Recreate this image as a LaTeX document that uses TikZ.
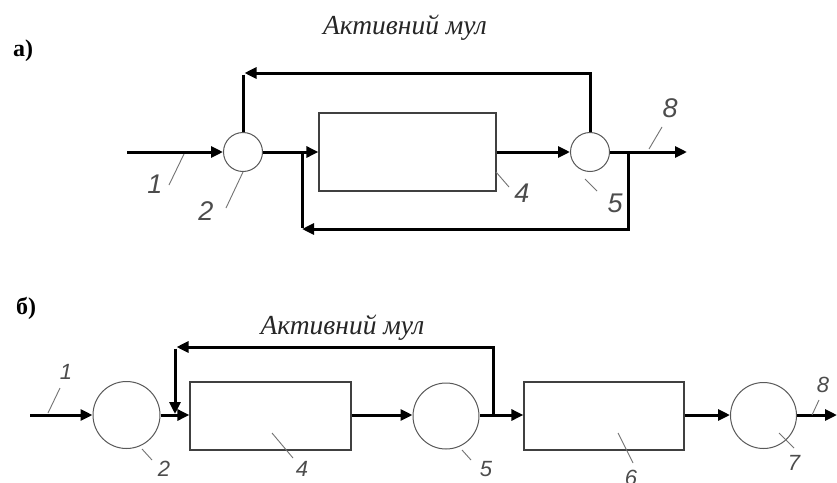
\documentclass[tikz,border=0pt]{standalone}
\usepackage{fontspec}
\setmainfont{Liberation Serif}
\newfontfamily\labelfont{Liberation Sans}
\usetikzlibrary{arrows.meta}
\tikzset{
  tip/.style={-{Triangle[length=12pt,width=11pt]}},
  flow/.style={line width=3pt, tip},
  pipe/.style={line width=3pt},
  unitbox/.style={draw=black!75, line width=1.3pt, rectangle, inner sep=0pt},
  mixer/.style={draw=black!65, line width=1pt, circle, inner sep=0pt},
  leader/.style={draw=black!55, line width=0.9pt},
  taga/.style={font=\labelfont\itshape\fontsize{27}{27}\selectfont, text=black!70, inner sep=0pt},
  tagb/.style={font=\labelfont\itshape\fontsize{22}{22}\selectfont, text=black!70, inner sep=0pt},
  heading/.style={font=\itshape\fontsize{27.5}{27.5}\selectfont, text=black!85, inner sep=0pt, anchor=base},
  part/.style={font=\bfseries\fontsize{24}{24}\selectfont, inner sep=0pt}
}
\begin{document}
\begin{tikzpicture}[x=1pt,y=-1pt]
\useasboundingbox[fill=white] (0,0) rectangle (837,482);

% ---------------- scheme a) ----------------
\node[part] (pa) at (23,51) {а)};
\node[heading] (ha) at (405,34) {Активний мул};

\node[mixer, minimum size=39pt] (c2a) at (243,152) {};
\node[unitbox, minimum width=177pt, minimum height=78pt] (b4a) at (407.5,152) {};
\node[mixer, minimum size=39pt] (c5a) at (590,152) {};
\coordinate (in1a) at (127,152);
\coordinate (out8a) at (687,152);
\coordinate (s1a) at (302,152);
\coordinate (s2a) at (628,152);
\coordinate (ta) at (243,73);
\coordinate (ba) at (302,229);

\draw[flow] (in1a) -- (c2a);
\draw[flow] (c2a) -- (b4a);
\draw[flow] (b4a) -- (c5a);
\draw[flow] (c5a) -- (out8a);
% recycle over the top
\draw[flow] (c5a.north) |- ([xshift=1.5pt]ta);
\draw[pipe] ([yshift=-1.5pt]ta) -- (c2a.north);
% bypass underneath
\draw[flow] (s2a) |- (ba);
\draw[pipe] ([yshift=1.5pt]ba) -- (s1a);

% position numbers
\draw[leader] (184,154) -- (169,185);
\node[taga] (n1a) at (155,184) {1};
\draw[leader] (243,172) -- (226,208);
\node[taga] (n2a) at (206,211) {2};
\draw[leader] (496,172) -- (509,187);
\node[taga] (n4a) at (522,193) {4};
\draw[leader] (585,179) -- (597,191);
\node[taga] (n5a) at (615,203) {5};
\draw[leader] (649,149) -- (662,127);
\node[taga] (n8a) at (670,108) {8};

% ---------------- scheme b) ----------------
\node[part] (pb) at (26,308) {б)};
\node[heading] (hb) at (342.5,334) {Активний мул};

\node[mixer, minimum size=67pt] (c2b) at (126.5,415) {};
\node[unitbox, minimum width=161pt, minimum height=68pt] (b4b) at (270.5,416) {};
\node[mixer, minimum size=66pt] (c5b) at (446,416) {};
\node[unitbox, minimum width=160pt, minimum height=68pt] (b6b) at (604,416) {};
\node[mixer, minimum size=66pt] (c7b) at (763.5,415.5) {};
\coordinate (in1b) at (30,415);
\coordinate (out8b) at (837,415);
\coordinate (s1b) at (493,415);
\coordinate (tb) at (175,347);
\coordinate (db) at (175,414);

\draw[flow] (in1b) -- (c2b);
\draw[flow] (c2b.east |- 0,415) -- (b4b.west |- 0,415);
\draw[flow] (b4b.east |- 0,415) -- (c5b.west |- 0,415);
\draw[flow] (c5b.east |- 0,415) -- (b6b.west |- 0,415);
\draw[flow] (b6b.east |- 0,415) -- (c7b.west |- 0,415);
\draw[flow] (c7b.east |- 0,415) -- (out8b);
% return of active sludge
\draw[flow] (s1b) |- ([xshift=1.5pt]tb);
\draw[flow] ([yshift=-1.5pt]tb) -- (db);

% position numbers
\draw[leader] (48,413) -- (60,388);
\node[tagb] (n1b) at (66,372) {1};
\draw[leader] (142,449) -- (152,460);
\node[tagb] (n2b) at (164,469) {2};
\draw[leader] (272,433) -- (293,458);
\node[tagb] (n4b) at (302,469) {4};
\draw[leader] (462,450) -- (471,460);
\node[tagb] (n5b) at (486,469) {5};
\draw[leader] (618,433) -- (633,463);
\node[tagb] (n6b) at (631,478) {6};
\draw[leader] (779,433) -- (794,448);
\node[tagb] (n7b) at (794,463) {7};
\draw[leader] (812,415) -- (819,400);
\node[tagb] (n8b) at (823,385) {8};
\end{tikzpicture}
\end{document}
